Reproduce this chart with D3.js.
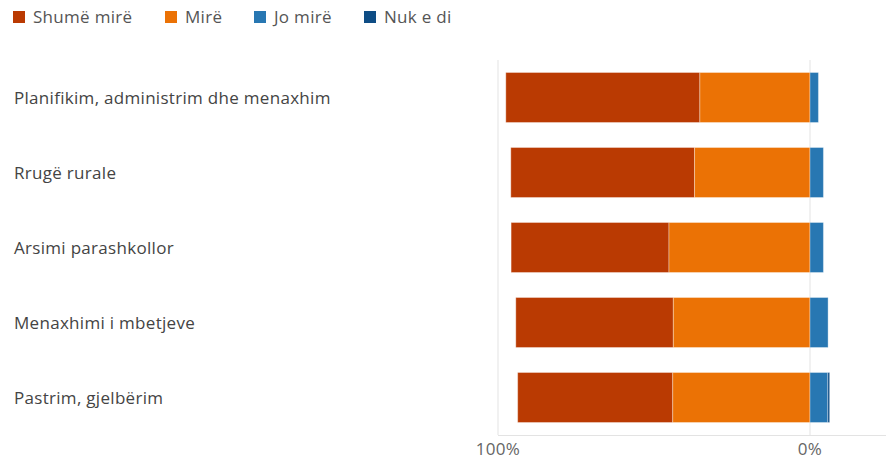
<!DOCTYPE html>
<head>
    <meta charset="utf-8">
    <script src="https://d3js.org/d3.v7.min.js"></script>
    <style>
        body { margin: 0; background: #fff; }
        text { font-family: "Open Sans", "Noto Sans", sans-serif; }
    </style>
</head>
<body>
<script>
    // values in percent
    const categories = ["Planifikim, administrim dhe menaxhim", "Rrugë rurale", "Arsimi parashkollor",
        "Menaxhimi i mbetjeve", "Pastrim, gjelbërim"];
    const series = ["Shumë mirë", "Mirë", "Jo mirë", "Nuk e di"];
    const shumeMire = [62.2, 58.9, 50.6, 50.5, 49.7];
    const mire = [35.3, 37.0, 45.2, 43.8, 44.0];
    const joMire = [2.7, 4.3, 4.3, 5.8, 5.7];
    const nukEDi = [0, 0, 0, 0, 0.6];
    const tickValues = [-100, 0];
    const tickLabels = ["100%", "0%"];
    const colors = ["#BA3A02", "#EB7205", "#2877B2", "#0E4D85"];

    const width = 886, height = 460;

    const svg = d3.select("body").append("svg")
        .attr("width", width)
        .attr("height", height);

    const x = d3.scaleLinear().domain([-100, 0]).range([498, 810]);
    const y = d3.scaleBand().domain(categories).range([60, 435]).paddingInner(1 / 3).paddingOuter(1 / 6);

    // grid
    svg.append("g").selectAll("line").data(tickValues).join("line")
        .attr("x1", d => x(d)).attr("x2", d => x(d))
        .attr("y1", 60).attr("y2", 435)
        .attr("stroke", "#e3e3e3").attr("stroke-width", 1);
    svg.append("line")
        .attr("x1", x(-100)).attr("x2", width)
        .attr("y1", 435.5).attr("y2", 435.5)
        .attr("stroke", "#e3e3e3");

    // stacked segments: left side negative, right side positive
    const rows = categories.map((c, i) => {
        const v = [shumeMire[i], mire[i], joMire[i], nukEDi[i]];
        const segs = [];
        let left = -(v[0] + v[1]);
        segs.push({ cat: c, s: 0, x0: left, x1: left + v[0] });
        segs.push({ cat: c, s: 1, x0: left + v[0], x1: 0 });
        segs.push({ cat: c, s: 2, x0: 0, x1: v[2] });
        segs.push({ cat: c, s: 3, x0: v[2], x1: v[2] + v[3] });
        return segs;
    }).flat().filter(d => d.x1 > d.x0);

    svg.append("g").selectAll("rect").data(rows).join("rect")
        .attr("x", d => x(d.x0))
        .attr("width", d => x(d.x1) - x(d.x0))
        .attr("y", d => y(d.cat))
        .attr("height", y.bandwidth())
        .attr("fill", d => colors[d.s])
        .attr("stroke", "rgba(255,255,255,0.35)")
        .attr("stroke-width", 1);

    // category labels
    svg.append("g").selectAll("text").data(categories).join("text")
        .attr("x", 14)
        .attr("y", d => y(d) + y.bandwidth() / 2 + 1)
        .attr("dy", "0.35em")
        .attr("font-size", 17)
        .attr("letter-spacing", 0.3)
        .attr("fill", "#444")
        .text(d => d);

    // x tick labels
    svg.append("g").selectAll("text").data(tickValues).join("text")
        .attr("x", d => x(d))
        .attr("y", 449)
        .attr("dy", "0.35em")
        .attr("text-anchor", "middle")
        .attr("font-size", 17)
        .attr("letter-spacing", 0.3)
        .attr("fill", "#666")
        .text((d, i) => tickLabels[i]);

    // legend
    const legendX = [13, 165, 254, 364];
    const lg = svg.append("g").selectAll("g").data(series).join("g")
        .attr("transform", (d, i) => `translate(${legendX[i]},11)`);
    lg.append("rect").attr("width", 12).attr("height", 12).attr("fill", (d, i) => colors[i]);
    lg.append("text").attr("x", 20).attr("y", 6).attr("dy", "0.35em")
        .attr("font-size", 17).attr("letter-spacing", 0.3)
        .attr("fill", "#555").text(d => d);
</script>
</body>
